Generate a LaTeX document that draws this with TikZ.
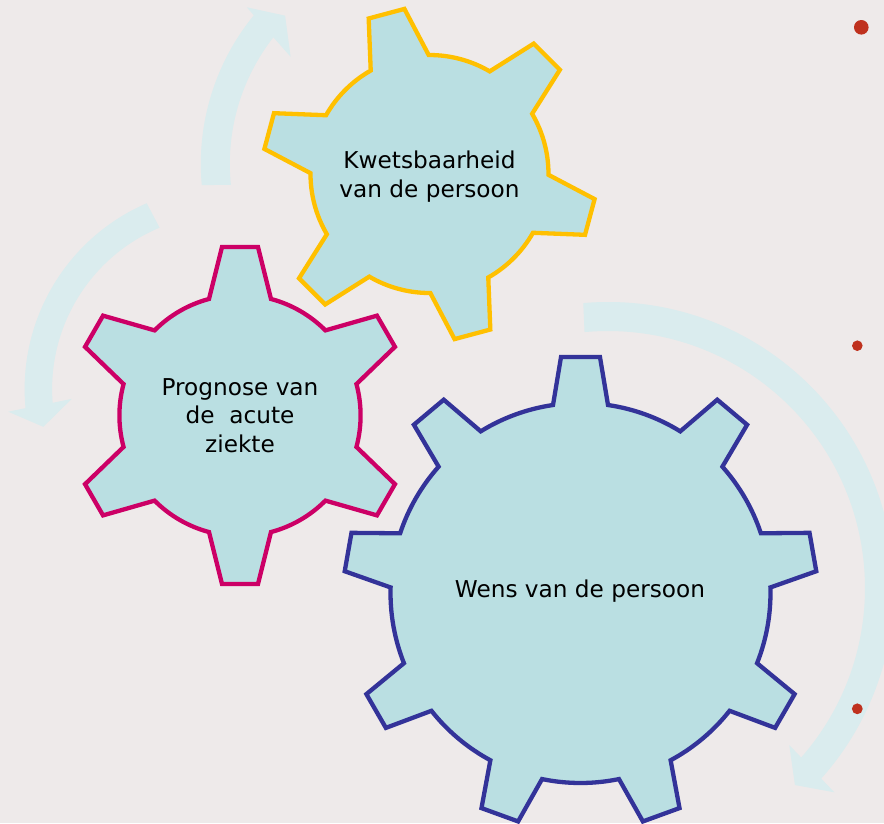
\documentclass[tikz,border=0pt]{standalone}
\usepackage{fontspec}
\setmainfont{DejaVu Sans}
\definecolor{pagebg}{RGB}{238,234,234}
\definecolor{gearfill}{RGB}{186,223,226}
\definecolor{arrowfill}{RGB}{218,236,238}
\definecolor{gearyellow}{RGB}{255,192,0}
\definecolor{gearmagenta}{RGB}{204,0,102}
\definecolor{gearblue}{RGB}{51,51,153}
\definecolor{bulletred}{RGB}{191,49,30}

% Outline of a gear centred on the origin:
% #1 teeth, #2 angle of first tooth, #3 root radius, #4 tip radius,
% #5 half-angle of a tooth at the root, #6 half-angle of a tooth at the tip
\newcommand{\gearpath}[6]{%
  ({#2-#5}:#3)
  \foreach \k in {1,...,#1} {
    -- ({#2+(\k-1)*360/#1-#6}:#4)
    -- ({#2+(\k-1)*360/#1+#6}:#4)
    -- ({#2+(\k-1)*360/#1+#5}:#3)
    arc[start angle={#2+(\k-1)*360/#1+#5}, end angle={#2+\k*360/#1-#5}, radius=#3]
  } -- cycle
}

\begin{document}
\begin{tikzpicture}[x=1pt, y=1pt, yscale=-1]
\tikzset{
  gearbody/.style={fill=gearfill, line width=4.3pt},
  cyclearrow/.style={fill=arrowfill, draw=none},
  gearlabel/.style={font=\fontsize{23.2}{28.7}\selectfont, text=black,
                    align=center, inner sep=0pt},
  bullet/.style={fill=bulletred, draw=none},
}
\fill[pagebg] (0,0) rectangle (884,823);
\useasboundingbox (0,0) rectangle (884,823);

% curved cycle arrows
\begin{scope}[shift={(435.3,163.8)}]
  \fill[cyclearrow] (174.8:234.5) arc[start angle=174.8, end angle=219.3, radius=234.5]
    -- (219.7:245) -- (224.6:211) -- (216.5:180) -- (218.0:205.5)
    arc[start angle=218.0, end angle=174.1, radius=205.5] -- cycle;
\end{scope}
\begin{scope}[shift={(227.1,389.1)}]
  \fill[cyclearrow] (246.6:202.5) arc[start angle=246.6, end angle=174.6, radius=202.5]
    -- (174.1:220) -- (168.4:187.6) -- (176.4:155.7) -- (175.5:175)
    arc[start angle=175.5, end angle=247.3, radius=175] -- cycle;
\end{scope}
\begin{scope}[shift={(608,588)}]
  \fill[cyclearrow] (-94.96:286) arc[start angle=-94.96, end angle=41.79, radius=286]
    -- (42.07:304.9) -- (46.5:271.6) -- (40.9:239.8) -- (41.26:257)
    arc[start angle=41.26, end angle=-95.24, radius=257] -- cycle;
\end{scope}

% gears
\begin{scope}[shift={(429.5,174)}]
  \draw[gearbody, draw=gearyellow] \gearpath{6}{15}{119}{167}{14.6}{6.36};
\end{scope}
\begin{scope}[shift={(240,415.5)}]
  \draw[gearbody, draw=gearmagenta] \gearpath{6}{30}{120.6}{169.5}{14.9}{6.1};
\end{scope}
\begin{scope}[shift={(580.5,593)}]
  \draw[gearbody, draw=gearblue] \gearpath{9}{30}{190}{236.8}{8.32}{4.72};
\end{scope}

% labels
\node[gearlabel, anchor=north] (vulnerability) at (429.5,150.7) {Kwetsbaarheid\\van de persoon};
\node[gearlabel, anchor=north] (prognosis) at (240,378.1) {Prognose van\\de\ \ acute\\ziekte};
\node[gearlabel, anchor=base] (wish) at (580,597.7) {Wens van de persoon};

% bullets at the right edge
\fill[bullet] (861.3,27.3) circle[radius=7.3];
\fill[bullet] (857.3,345.7) circle[radius=5.3];
\fill[bullet] (857.3,708.8) circle[radius=5.4];
\end{tikzpicture}
\end{document}
